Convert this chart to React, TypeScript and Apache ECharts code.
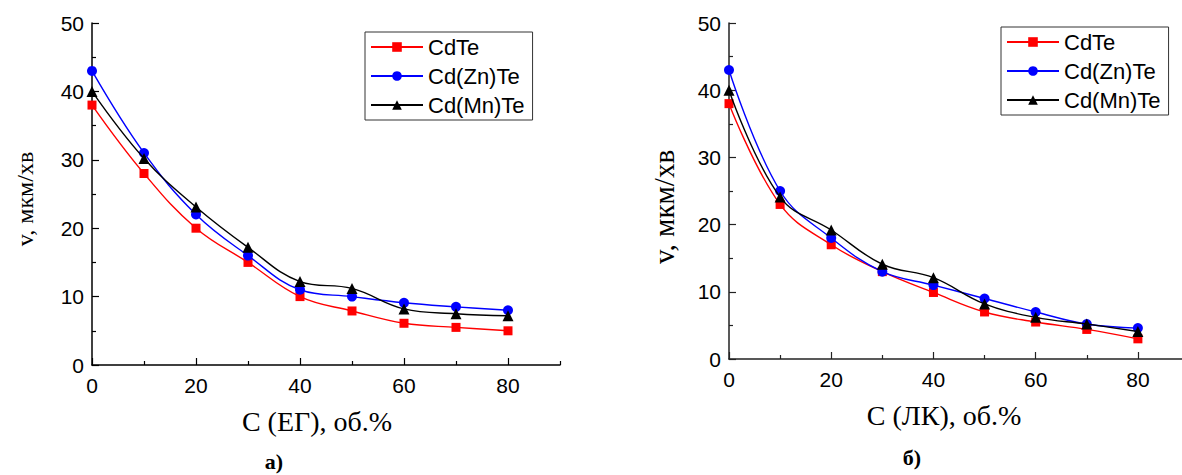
import React, { useEffect, useRef } from "react";
import * as echarts from "echarts";

const concentrations = [0, 10, 20, 30, 40, 50, 60, 70, 80];
const seriesNames = ["CdTe", "Cd(Zn)Te", "Cd(Mn)Te"];

// Panel a) — ethylene glycol
const egCdTe = [38, 28, 20, 15, 10, 7.9, 6.1, 5.5, 5.0];
const egCdZnTe = [43, 31, 22, 16, 11, 10, 9.1, 8.5, 8.0];
const egCdMnTe = [40, 30.2, 23.1, 17.2, 12.2, 11.2, 8.2, 7.5, 7.2];

// Panel б) — lactic acid
const lkCdTe = [38, 23, 17, 13, 9.9, 7.0, 5.5, 4.4, 3.0];
const lkCdZnTe = [43, 25, 18, 13, 11, 9.0, 7.0, 5.2, 4.6];
const lkCdMnTe = [40, 24.1, 19.2, 14.1, 12.1, 8.2, 6.2, 5.2, 4.1];

const xMajorTicks = [0, 20, 40, 60, 80];
const xMinorTicks = [10, 30, 50, 70, 90];

const colors = ["#ff0000", "#0000ff", "#000000"];
const symbols = ["rect", "circle", "triangle"];
const symbolSizes = [9, 10, 11];

const SANS = "Liberation Sans, Arial, sans-serif";
const SERIF = "Liberation Serif, Times New Roman, serif";

function makeXAxes(gridIndex: number, color: string) {
  return [
    {
      type: "value",
      gridIndex,
      min: 0,
      max: 90,
      position: "bottom",
      axisLine: { show: true, lineStyle: { color, width: 1.5 } },
      axisTick: { show: true, inside: true, length: 7, customValues: xMajorTicks, lineStyle: { color, width: 1.2 } },
      axisLabel: { show: true, customValues: xMajorTicks, fontFamily: SANS, fontSize: 21, color: "#000", margin: 10 },
      splitLine: { show: false },
    },
    {
      type: "value",
      gridIndex,
      min: 0,
      max: 90,
      position: "bottom",
      axisLine: { show: false },
      axisTick: { show: true, inside: true, length: 4, customValues: xMinorTicks, lineStyle: { color, width: 1.2 } },
      axisLabel: { show: false },
      splitLine: { show: false },
    },
  ];
}

function makeYAxis(gridIndex: number, color: string) {
  return {
    type: "value",
    gridIndex,
    min: 0,
    max: 50,
    interval: 10,
    axisLine: { show: true, lineStyle: { color, width: 1.5 } },
    axisTick: { show: true, inside: true, length: 7, lineStyle: { color, width: 1.2 } },
    minorTick: { show: true, splitNumber: 2, length: 4, lineStyle: { color, width: 1.2 } },
    axisLabel: { fontFamily: SANS, fontSize: 21, color: "#000", margin: 8 },
    splitLine: { show: false },
    minorSplitLine: { show: false },
  };
}

function makeSeries(values: number[][], xAxisIndex: number, yAxisIndex: number) {
  return values.map((vals, i) => ({
    name: seriesNames[i],
    type: "line",
    xAxisIndex,
    yAxisIndex,
    data: concentrations.map((c, j) => [c, vals[j]]),
    smooth: 0.4,
    symbol: symbols[i],
    symbolSize: symbolSizes[i],
    showAllSymbol: true,
    clip: false,
    lineStyle: { color: colors[i], width: 1.4 },
    itemStyle: { color: colors[i] },
    z: 3 + i,
  }));
}

function makeLegend(left: number, top: number) {
  return {
    orient: "vertical",
    left,
    top,
    data: seriesNames,
    itemWidth: 52,
    itemHeight: 12,
    itemGap: 7,
    padding: [4, 8, 4, 5],
    borderColor: "#333",
    borderWidth: 1,
    backgroundColor: "#fff",
    textStyle: { fontFamily: SANS, fontSize: 22, color: "#000", lineHeight: 22 },
  };
}

export default function App() {
  const ref = useRef<HTMLDivElement>(null);
  useEffect(() => {
    if (!ref.current) return;
    const chart = echarts.init(ref.current, undefined, { renderer: "svg" });
    const xAxes = [...makeXAxes(0, "#000"), ...makeXAxes(1, "#222")];
    chart.setOption({
      animation: false,
      backgroundColor: "#fff",
      grid: [
        { left: 92, top: 23, width: 468, height: 342 },
        { left: 729, top: 23, width: 460, height: 336 },
      ],
      xAxis: xAxes,
      yAxis: [makeYAxis(0, "#000"), makeYAxis(1, "#222")],
      legend: [
        { ...makeLegend(365, 32) },
        { ...makeLegend(1001, 27) },
      ],
      series: [
        ...makeSeries([egCdTe, egCdZnTe, egCdMnTe], 0, 0),
        ...makeSeries([lkCdTe, lkCdZnTe, lkCdMnTe], 2, 1),
      ],
      graphic: [
        {
          type: "text",
          x: 317,
          y: 421,
          style: { text: "С (ЕГ), об.%", font: `28px ${SERIF}`, fill: "#000", textAlign: "center", textVerticalAlign: "middle" },
        },
        {
          type: "text",
          x: 944,
          y: 415,
          style: { text: "С (ЛК), об.%", font: `28px ${SERIF}`, fill: "#000", textAlign: "center", textVerticalAlign: "middle" },
        },
        {
          type: "text",
          x: 25,
          y: 199,
          rotation: Math.PI / 2,
          style: { text: "v, мкм/хв", font: `24px ${SERIF}`, fill: "#000", textAlign: "center", textVerticalAlign: "middle" },
        },
        {
          type: "text",
          x: 664,
          y: 207,
          rotation: Math.PI / 2,
          style: { text: "v, мкм/хв", font: `29px ${SERIF}`, fill: "#000", textAlign: "center", textVerticalAlign: "middle" },
        },
        {
          type: "text",
          x: 274,
          y: 461,
          style: { text: "а)", font: `bold 22px ${SERIF}`, fill: "#000", textAlign: "center", textVerticalAlign: "middle" },
        },
        {
          type: "text",
          x: 912,
          y: 457,
          style: { text: "б)", font: `bold 22px ${SERIF}`, fill: "#000", textAlign: "center", textVerticalAlign: "middle" },
        },
      ],
    });
    return () => chart.dispose();
  }, []);
  return (
    <div style={{ position: "fixed", left: 0, top: 0, width: 1182, height: 475, overflow: "hidden", background: "#fff" }}>
      <div ref={ref} style={{ width: 1200, height: 475 }} />
    </div>
  );
}
